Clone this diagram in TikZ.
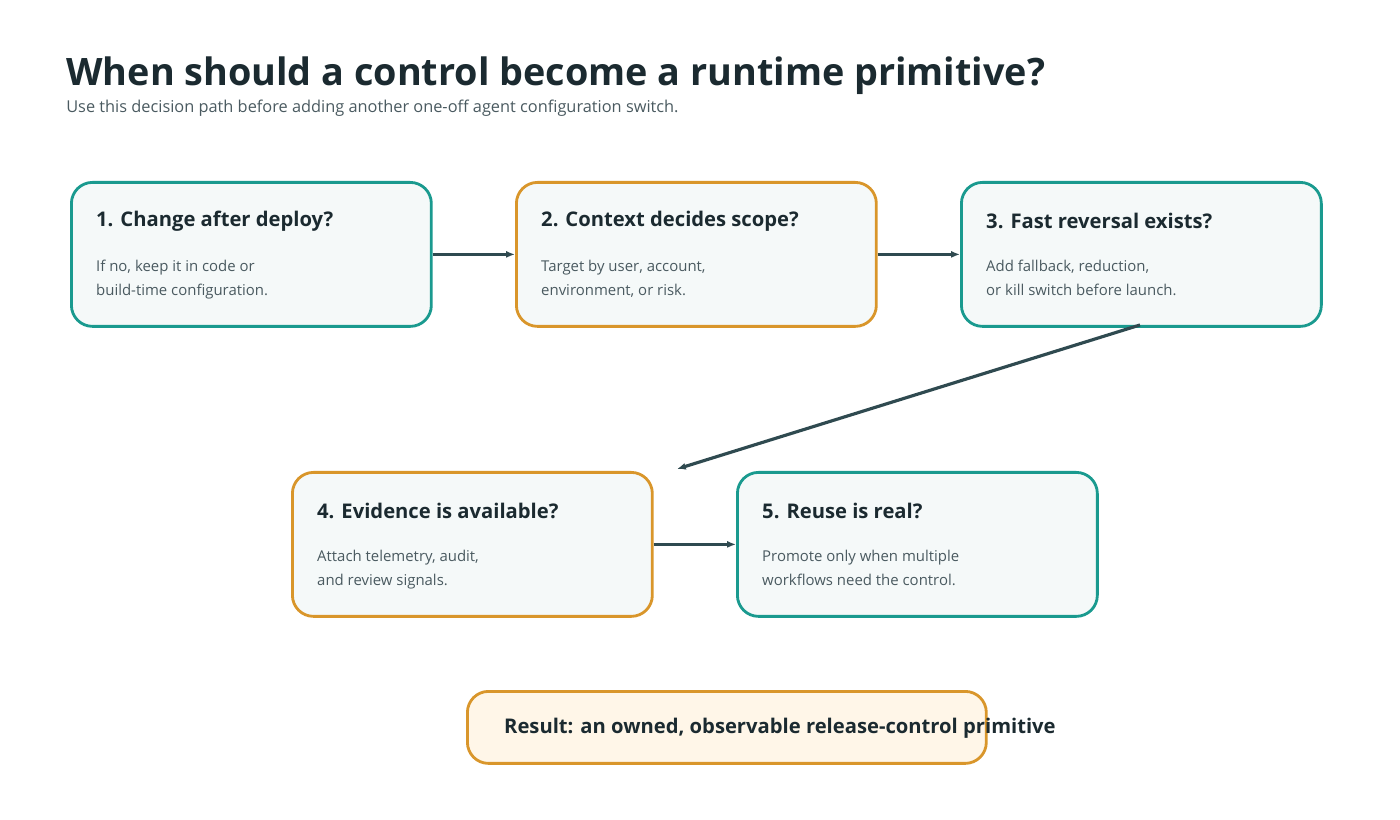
\documentclass[tikz,border=0pt]{standalone}
\usepackage{fontspec}
\setmainfont{Open Sans}
\usetikzlibrary{arrows.meta, positioning}
\definecolor{flteal}{HTML}{1A9A8F}
\definecolor{florange}{HTML}{D9962B}
\definecolor{flfill}{HTML}{F5F9F9}
\definecolor{flresult}{HTML}{FFF6E8}
\definecolor{flarrow}{HTML}{2F4A50}
\definecolor{fltext}{HTML}{1B2A30}
\definecolor{flbody}{HTML}{4A5A60}
\tikzset{
  flstep/.style={draw, line width=1.6pt, rounded corners=12pt, fill=flfill,
    minimum width=7.2cm, minimum height=2.88cm, anchor=north west},
  tealstep/.style={flstep, draw=flteal},
  orangestep/.style={flstep, draw=florange},
  head/.style={anchor=west, font=\fontsize{11.5}{14}\selectfont\bfseries, text=fltext},
  body/.style={anchor=north west, align=left, font=\fontsize{8.5}{13.5}\selectfont, text=flbody},
  flow/.style={-{Latex[length=5pt,width=4pt]}, line width=1.8pt, draw=flarrow}
}
\begin{document}
\begin{tikzpicture}[x=0.02cm, y=-0.02cm]
\useasboundingbox (0,0) rectangle (1400,820);
% Title
\node[anchor=base west, font=\fontsize{21.5}{26}\selectfont\bfseries, text=fltext, inner sep=0] (title) at (66,86) {When should a control become a runtime primitive?};
\node[anchor=base west, font=\fontsize{9.3}{12}\selectfont, text=flbody, inner sep=0] (sub) at (66,113) {Use this decision path before adding another one-off agent configuration switch.};

% Steps
\node[tealstep] (s1) at (70,181) {};
\node[orangestep] (s2) at (515,181) {};
\node[tealstep] (s3) at (960,181) {};
\node[orangestep] (s4) at (291,471) {};
\node[tealstep] (s5) at (736,471) {};

\node[head] at (90,221) {1. Change after deploy?};
\node[body] at (90,254) {If no, keep it in code or\\build-time configuration.};
\node[head] at (535,221) {2. Context decides scope?};
\node[body] at (535,254) {Target by user, account,\\environment, or risk.};
\node[head] at (980,221) {3. Fast reversal exists?};
\node[body] at (980,254) {Add fallback, reduction,\\or kill switch before launch.};
\node[head] at (311,511) {4. Evidence is available?};
\node[body] at (311,544) {Attach telemetry, audit,\\and review signals.};
\node[head] at (756,511) {5. Reuse is real?};
\node[body] at (756,544) {Promote only when multiple\\workflows need the control.};

% Result
\node[draw=florange, line width=1.6pt, rounded corners=12pt, fill=flresult,
  minimum width=10.38cm, minimum height=1.44cm, anchor=north west] (res) at (466,690) {};
\node[anchor=west, font=\fontsize{11.5}{14}\selectfont\bfseries, text=fltext] at (498,728) {Result: an owned, observable release-control primitive};

% Connectors
\coordinate (s3out) at (1140,325);
\coordinate (s4in) at (677,469);
\draw[flow] (s1.east) -- (s2.west);
\draw[flow] (s2.east) -- (s3.west);
\draw[flow] (s3out) -- (s4in);
\draw[flow] (s4.east) -- (s5.west);
\end{tikzpicture}
\end{document}
